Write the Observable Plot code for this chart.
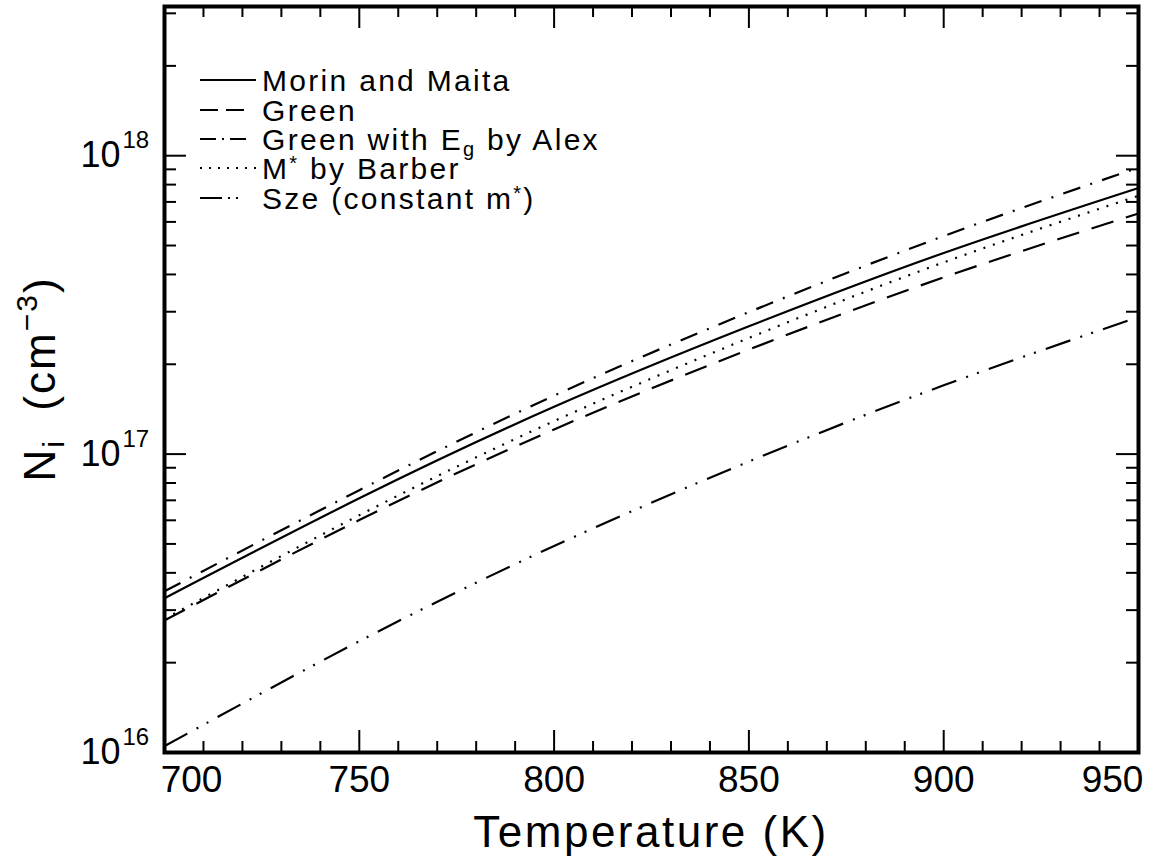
<!DOCTYPE html>
<html><head><meta charset="utf-8">
<script src="https://cdn.jsdelivr.net/npm/d3@7"></script>
<script src="https://cdn.jsdelivr.net/npm/@observablehq/plot@0.6"></script>
<style>body{margin:0;background:#fff} #chart{width:1156px;height:859px}</style>
</head><body><div id="chart"></div>
<script>
// ---- data ----
const temps = [700, 750, 800, 850, 900, 950];
const morin  = [3.29e16, 7.11e16, 1.44e17, 2.68e17, 4.72e17, 7.79e17];
const green  = [2.77e16, 6.01e16, 1.21e17, 2.24e17, 3.91e17, 6.40e17];
const alex   = [3.47e16, 7.57e16, 1.57e17, 2.99e17, 5.38e17, 9.12e17];
const barber = [2.80e16, 6.24e16, 1.29e17, 2.45e17, 4.39e17, 7.34e17];
const sze    = [1.05e16, 2.36e16, 4.92e16, 9.44e16, 1.70e17, 2.88e17];
const seriesKeys = ["morin", "green", "alex", "barber", "sze"];
const seriesValues = [morin, green, alex, barber, sze];
const dashes = ["none", "23,13", "18,10.5,2,10.5", "2,8", "26,10.5,2,9.5,2,10.5"];

const xMajor = [700, 750, 800, 850, 900, 950];
const xMajorLabels = ["700", "750", "800", "850", "900", "950"];
const xMinor = [710,720,730,740,760,770,780,790,810,820,830,840,860,870,880,890,910,920,930,940];
const yMajor = [1e16, 1e17, 1e18];
const yMajorExp = ["16", "17", "18"];
const yMinor = [2e16,3e16,4e16,5e16,6e16,7e16,8e16,9e16,2e17,3e17,4e17,5e17,6e17,7e17,8e17,9e17,2e18,3e18];

// ---- layout ----
const W = 1156, H = 859;
const mL = 164, mR = 18, mT = 6, mB = 107;
const iw = W - mL - mR, ih = H - mT - mB;
const FONT = "'Liberation Sans', Arial, sans-serif";

const lineMarks = seriesValues.map((vals, i) =>
  Plot.line(temps.map((t, j) => ({t, v: vals[j]})), {
    x: "t", y: "v", stroke: "black", strokeWidth: 2.2,
    strokeDasharray: dashes[i], curve: "natural", strokeLinecap: "butt"
  })
);

const plot = Plot.plot({
  width: W, height: H,
  marginLeft: mL, marginRight: mR, marginTop: mT, marginBottom: mB,
  style: {fontFamily: FONT, background: "white", color: "black"},
  x: {domain: [700, 950], axis: null},
  y: {type: "log", domain: [1e16, Math.pow(10, 18.5)], axis: null},
  marks: [
    ...lineMarks,
    Plot.tickX(xMajor, {x: d => d, insetTop: ih - 22, strokeWidth: 2}),
    Plot.tickX(xMajor, {x: d => d, insetBottom: ih - 22, strokeWidth: 2}),
    Plot.tickX(xMinor, {x: d => d, insetTop: ih - 11, strokeWidth: 2}),
    Plot.tickX(xMinor, {x: d => d, insetBottom: ih - 11, strokeWidth: 2}),
    Plot.tickY(yMajor, {y: d => d, insetRight: iw - 22, strokeWidth: 2}),
    Plot.tickY(yMajor, {y: d => d, insetLeft: iw - 22, strokeWidth: 2}),
    Plot.tickY(yMinor, {y: d => d, insetRight: iw - 12, strokeWidth: 2}),
    Plot.tickY(yMinor, {y: d => d, insetLeft: iw - 12, strokeWidth: 2}),
    Plot.frame({stroke: "black", strokeWidth: 4}),
    Plot.text(xMajor.slice(1, -1), {x: d => d, text: (d, i) => xMajorLabels[i + 1],
      frameAnchor: "bottom", dy: 28, fontSize: 37, lineAnchor: "middle", fill: "black"}),
    Plot.text(xMajor.slice(0, 1), {x: d => d, text: () => xMajorLabels[0],
      frameAnchor: "bottom", dy: 28, dx: 27, fontSize: 37, lineAnchor: "middle", fill: "black"}),
    Plot.text(xMajor.slice(-1), {x: d => d, text: () => xMajorLabels[xMajorLabels.length - 1],
      frameAnchor: "bottom", dy: 28, dx: -26, fontSize: 37, lineAnchor: "middle", fill: "black"}),
    Plot.text(yMajor, {y: d => d, text: () => "10", frameAnchor: "left", textAnchor: "end",
      dx: -44, fontSize: 36, lineAnchor: "middle", fill: "black"}),
    Plot.text(yMajor, {y: d => d, text: (d, i) => yMajorExp[i], frameAnchor: "left", textAnchor: "start",
      dx: -42, dy: -15, fontSize: 24, lineAnchor: "middle", fill: "black"})
  ]
});
document.getElementById("chart").appendChild(plot);

// ---- titles and legend ----
const svg = d3.select(plot);
svg.append("text")
  .attr("x", mL + iw / 2).attr("y", 847)
  .attr("text-anchor", "middle").attr("font-family", FONT)
  .attr("font-size", 44).attr("letter-spacing", 2.5).attr("fill", "black")
  .text("Temperature (K)");

const yt = svg.append("text")
  .attr("transform", `translate(55,${mT + ih / 2}) rotate(-90)`)
  .attr("text-anchor", "middle").attr("font-family", FONT)
  .attr("font-size", 44).attr("letter-spacing", 2).attr("fill", "black")
  .attr("xml:space", "preserve");
yt.append("tspan").text("N");
yt.append("tspan").attr("font-size", 30).attr("dy", 9).text("i");
yt.append("tspan").attr("dy", -9).text("  (cm");
yt.append("tspan").attr("font-size", 30).attr("dy", -18).text("−3");
yt.append("tspan").attr("dy", 18).text(")");

const legendRows = [
  [["Morin and Maita", 0]],
  [["Green", 0]],
  [["Green with E", 0], ["g", 1], [" by Alex", 0]],
  [["M", 0], ["*", 2], [" by Barber", 0]],
  [["Sze (constant m", 0], ["*", 2], [")", 0]]
];
const legendDash = [null, "18,8,18", "16,6,2,6,16", "2,7", "22,6,2,6,2"];
const rowY = [80, 110, 139, 168, 198];
const lg = svg.append("g").attr("font-family", FONT).attr("font-size", 30)
  .attr("fill", "black").attr("text-anchor", "start");
legendRows.forEach((parts, i) => {
  lg.append("line").attr("x1", 200).attr("x2", 256).attr("y1", rowY[i]).attr("y2", rowY[i])
    .attr("stroke", "black").attr("stroke-width", 2.2)
    .attr("stroke-dasharray", legendDash[i]);
  const t = lg.append("text").attr("x", 262).attr("y", rowY[i] + 11)
    .attr("text-anchor", "start")
    .attr("letter-spacing", 2.3).attr("xml:space", "preserve");
  let shift = 0;
  parts.forEach(([s, kind]) => {
    const sp = t.append("tspan").text(s);
    const target = kind === 1 ? 6 : kind === 2 ? -9 : 0;
    if (kind) sp.attr("font-size", 20);
    if (target !== shift) { sp.attr("dy", target - shift); shift = target; }
  });
});
</script>
</body></html>
